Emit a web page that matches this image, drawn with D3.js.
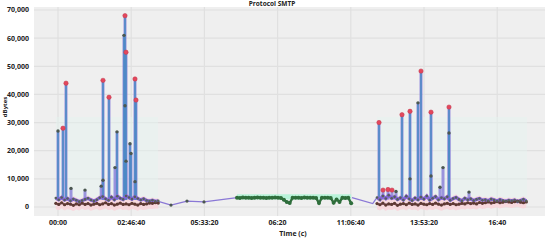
<!DOCTYPE html>
<html>
<head>
<meta charset="utf-8">
<script src="https://cdn.jsdelivr.net/npm/d3@7"></script>
<style>
  body { margin: 0; background: #fff; }
  text { font-family: "Open Sans", "Liberation Sans", sans-serif; font-weight: bold; fill: #222; }
</style>
</head>
<body>
<svg width="550" height="241"></svg>
<script>
// tick positions are seconds, labels as printed on the original chart
const xTickSecs = [0, 10000, 20000, 30000, 40000, 50000, 60000];
const xTickLabels = ["00:00", "02:46:40", "05:33:20", "06:20", "11:06:40", "13:53:20", "16:40"];
const yTicks = [0, 10000, 20000, 30000, 40000, 50000, 60000, 70000];

// spikes: time (s), peak value (dBytes), marker kind (r = red peak, g = grey point)
const spikeTime = [0, 683, 1093, 1776, 3689, 5900, 6148, 6148, 6967, 7787, 8060, 9016, 9153, 9153, 9290, 9290, 9836, 9973, 10519, 10519, 10656,
  43852, 44399, 45082, 45628, 46175, 46995, 48087, 48087, 49180, 49590, 50956, 50956, 52186, 52596, 53415, 53415, 56148];
const spikeValue = [27000, 28000, 44000, 6600, 6000, 7400, 45000, 9500, 39000, 14000, 26700, 61000, 68000, 36000, 55000, 16300, 22500, 19000, 45500, 9000, 38000,
  30000, 6000, 6200, 6000, 5500, 32800, 34000, 10000, 37000, 48300, 33700, 11000, 7000, 14000, 35500, 26300, 5300];
const spikeKind = ["g", "r", "r", "g", "g", "g", "r", "g", "r", "g", "g", "g", "r", "g", "r", "g", "g", "g", "r", "g", "r",
  "r", "r", "r", "r", "g", "r", "r", "g", "g", "r", "r", "g", "g", "g", "r", "g", "g"];

// regularly sampled baseline traffic (every 400 s)
const sampleStep = 400;
const leftStart = -300;
const leftUpper = [3200, 2600, 3400, 2500, 3000, 2200, 2800, 2400, 1900, 2300, 2700, 3100, 2500, 2100, 2600, 3300, 3700, 2900,
  2400, 3500, 2600, 3800, 3100, 2700, 3900, 3400, 2800, 3600, 3000, 2500, 2900, 2300, 2100, 2400, 2000, 2200];
const leftLower = [1300, 900, 1500, 800, 1200, 1000, 600, 1100, 800, 1400, 900, 1200, 700, 1000, 1300, 800, 1100, 1500,
  900, 1200, 700, 1000, 1400, 900, 1100, 800, 1300, 1000, 700, 1200, 900, 1100, 1400, 1300, 1500, 1400];
const rightStart = 43580;
const rightUpper = [3400, 2600, 3900, 3000, 4200, 3100, 3600, 2700, 3300, 2500, 3800, 2900, 2300, 3200, 2600, 3500, 2800, 3900,
  2500, 3100, 3700, 2600, 3300, 2900, 3600, 2400, 3000, 3400, 2700, 2200, 3100, 2600, 2900, 2300, 2700, 3000, 2400, 2600,
  2200, 2800, 2500, 2100, 2600, 2300, 2000, 2400, 2200, 2500, 1900, 2300, 2700, 2100];
const rightLower = [1200, 800, 1400, 700, 1100, 900, 1300, 600, 1000, 1200, 800, 1400, 900, 1100, 700, 1300, 1000, 800,
  1200, 900, 1400, 1000, 700, 1100, 1300, 900, 1200, 800, 1000, 1300, 1100, 1500, 1200, 1400, 1100, 1600, 1300, 1500,
  1800, 1400, 1600, 1900, 1500, 1700, 2000, 1800, 1600, 1900, 2100, 1700, 1500, 1800];

// quiet stretch between the two bursts
const gapTime = [13700, 15437, 17623, 19945, 24454];
const gapValue = [2000, 700, 2100, 1800, 3300];
const gapTime2 = [40164, 43000, 43580];
const gapValue2 = [3300, 1200, 3400];

// steady green session, sampled every 400 s
const greenStart = 24454;
const greenValue = [3300, 3200, 3350, 3250, 3300, 3200, 3300, 3350, 3250, 3300, 3200, 3300, 3250, 3350, 3300, 3200, 2600, 1800,
  1400, 3300, 3250, 3300, 3200, 3350, 3300, 3250, 3300, 3200, 1400, 3300, 3250, 3300, 3200, 1500, 2700, 1800, 3300, 3200, 3300, 1300];

// faint cyan backdrop behind the bursts
const burstRange = [[-300, 13661], [43580, 64071]];
const burstTop = 32000;

const svg = d3.select("svg");
const W = 550, H = 241;
const m = { left: 34, right: 5, top: 7, bottom: 25 };

const x = d3.scaleLinear().domain([-3279, 66530]).range([m.left, W - m.right]);
const y = d3.scaleLinear().domain([-3200, 71070]).range([H - m.bottom, m.top]);

const seq = (start, vals) => vals.map((v, i) => ({ t: start + i * sampleStep, v }));
const left = seq(leftStart, leftUpper);
const leftLo = seq(leftStart, leftLower);
const right = seq(rightStart, rightUpper);
const rightLo = seq(rightStart, rightLower);
const green = seq(greenStart, greenValue);
const gap1 = gapTime.map((t, i) => ({ t, v: gapValue[i] }));
const gap2 = gapTime2.map((t, i) => ({ t, v: gapValue2[i] }));

// plot background + grid
svg.append("rect").attr("x", m.left).attr("y", m.top)
  .attr("width", W - m.left - m.right).attr("height", H - m.top - m.bottom)
  .attr("fill", "#efefef");

svg.append("g").selectAll("line").data(yTicks).join("line")
  .attr("x1", m.left).attr("x2", W - m.right)
  .attr("y1", d => y(d)).attr("y2", d => y(d))
  .attr("stroke", "#e0e0e0").attr("stroke-width", 1.2);
svg.append("g").selectAll("line").data(xTickSecs).join("line")
  .attr("y1", m.top).attr("y2", H - m.bottom)
  .attr("x1", d => x(d)).attr("x2", d => x(d))
  .attr("stroke", "#e0e0e0").attr("stroke-width", 1.2);

// backdrops
svg.append("g").selectAll("rect").data(burstRange).join("rect")
  .attr("x", d => x(d[0])).attr("width", d => x(d[1]) - x(d[0]))
  .attr("y", y(burstTop)).attr("height", y(0) - y(burstTop))
  .attr("fill", "#e4f3ef").attr("opacity", 0.45);

const band = d3.area().x(d => x(d.t)).curve(d3.curveMonotoneX);
[[left, leftLo], [right, rightLo]].forEach(([up, lo]) => {
  const pts = up.map((d, i) => ({ t: d.t, hi: d.v + 1000, lo: lo[i].v - 2000 }));
  svg.append("path").datum(pts)
    .attr("d", band.y0(d => y(d.lo)).y1(d => y(d.hi)))
    .attr("fill", "#f8d6dc").attr("opacity", 0.9);
});
svg.append("path").datum(green)
  .attr("d", d3.area().x(d => x(d.t)).y0(y(2700)).y1(y(4500)))
  .attr("fill", "#b9f3d9");

const line = d3.line().x(d => x(d.t)).y(d => y(d.v));

// baseline series
[gap1, gap2].forEach(g => svg.append("path").datum(g).attr("d", line)
  .attr("fill", "none").attr("stroke", "#8a78d6").attr("stroke-width", 1.3));
svg.append("g").selectAll("circle").data(gap1.slice(1, 4)).join("circle")
  .attr("cx", d => x(d.t)).attr("cy", d => y(d.v)).attr("r", 1.6).attr("fill", "#4b5750");

[leftLo, rightLo].forEach(s => svg.append("path").datum(s).attr("d", line)
  .attr("fill", "none").attr("stroke", "#7a4a55").attr("stroke-width", 2));

// spikes
const base = 2600;
const sp = spikeTime.map((t, i) => ({ t, v: spikeValue[i], k: spikeKind[i] }));
svg.append("g").selectAll("line").data(sp).join("line")
  .attr("x1", d => x(d.t)).attr("x2", d => x(d.t))
  .attr("y1", y(base)).attr("y2", d => y(d.v))
  .attr("stroke", "#8d84da").attr("stroke-width", 3).attr("opacity", 0.85);
svg.append("g").selectAll("line").data(sp.filter(d => d.v > 15000)).join("line")
  .attr("x1", d => x(d.t)).attr("x2", d => x(d.t))
  .attr("y1", y(base)).attr("y2", d => y(d.v))
  .attr("stroke", "#4d8ac6").attr("stroke-width", 1.6);

[left, right].forEach(s => svg.append("path").datum(s).attr("d", line)
  .attr("fill", "none").attr("stroke", "#8366d6").attr("stroke-width", 3.4));

// markers on baseline
[leftLo, rightLo].forEach(s => svg.append("g").selectAll("circle").data(s).join("circle")
  .attr("cx", d => x(d.t)).attr("cy", d => y(d.v)).attr("r", 1.6).attr("fill", "#5e3a33"));
[left, right].forEach(s => svg.append("g").selectAll("circle").data(s).join("circle")
  .attr("cx", d => x(d.t)).attr("cy", d => y(d.v)).attr("r", 1.3).attr("fill", "#55605a"));

// green session
svg.append("path").datum(green).attr("d", line)
  .attr("fill", "none").attr("stroke", "#2f6e3c").attr("stroke-width", 2.4);
svg.append("g").selectAll("circle").data(green).join("circle")
  .attr("cx", d => x(d.t)).attr("cy", d => y(d.v)).attr("r", 2).attr("fill", "#2f6e3c");

// spike markers
svg.append("g").selectAll("circle").data(sp).join("circle")
  .attr("cx", d => x(d.t)).attr("cy", d => y(d.v))
  .attr("r", d => d.k === "r" ? 2.2 : 1.7)
  .attr("fill", d => d.k === "r" ? "#e4475c" : "#4b5750")
  .attr("stroke", d => d.k === "r" ? "#c0394c" : "none").attr("stroke-width", 0.5);

// axes text
svg.append("g").selectAll("text").data(yTicks).join("text")
  .attr("x", 29).attr("y", d => y(d)).attr("dy", "0.35em")
  .attr("text-anchor", "end").attr("font-size", 7)
  .text(d => d3.format(",")(d));
svg.append("g").selectAll("text").data(xTickSecs).join("text")
  .attr("x", d => x(d)).attr("y", 225)
  .attr("text-anchor", "middle").attr("font-size", 7)
  .text((d, i) => xTickLabels[i]);

svg.append("text").attr("x", 293).attr("y", 236).attr("text-anchor", "middle")
  .attr("font-size", 7).text("Time (c)");
svg.append("text").attr("transform", "translate(7,107) rotate(-90)")
  .attr("text-anchor", "middle").attr("font-size", 6).text("dBytes");
svg.append("text").attr("x", 272).attr("y", 6).attr("text-anchor", "middle")
  .attr("font-size", 6.5).text("Protocol SMTP");
</script>
</body>
</html>
